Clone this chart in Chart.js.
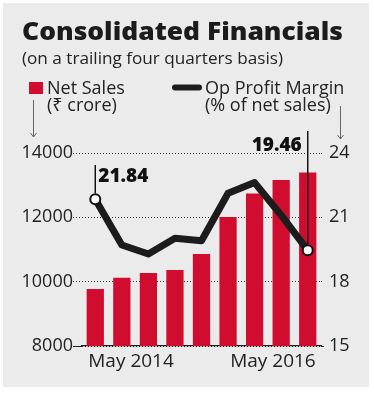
<!DOCTYPE html>
<html><head><meta charset="utf-8">
<script src="https://cdn.jsdelivr.net/npm/chart.js@4.4.1/dist/chart.umd.min.js"></script>
<style>
html,body{margin:0;padding:0;background:#fff;}
#wrap{position:relative;width:374px;height:395px;}
</style></head>
<body><div id="wrap"><canvas id="c" width="374" height="395"></canvas></div>
<script>
// ---- data ----
const quarters = ['May 2014','Aug 2014','Nov 2014','Feb 2015','May 2015','Aug 2015','Nov 2015','Feb 2016','May 2016'];
const netSales = [9770, 10120, 10270, 10360, 10860, 12010, 12740, 13160, 13390];
const opMargin = [21.84, 19.71, 19.29, 20.02, 19.91, 22.12, 22.62, 21.10, 19.46];
const salesTicks = [8000, 10000, 12000, 14000];
const marginTicks = [15, 18, 21, 24];

const FONT = "'Open Sans', 'Noto Sans', 'DejaVu Sans', sans-serif";
const RED = '#d10d2f';
const INK = '#1c1c1c';

function fitText(ctx, text, x, y, width) {
  const w = ctx.measureText(text).width;
  ctx.save();
  ctx.translate(x, y);
  ctx.scale(width / w, 1);
  ctx.fillText(text, 0, 0);
  ctx.restore();
}

const deco = {
  id: 'deco',
  beforeDraw(chart) {
    const ctx = chart.ctx;
    ctx.save();
    ctx.fillStyle = '#ffffff';
    ctx.fillRect(0, 0, chart.width, chart.height);
    ctx.fillStyle = '#ebebeb';
    ctx.fillRect(3, 3, 366, 384);
    ctx.restore();
  },
  afterDraw(chart) {
    const ctx = chart.ctx;
    ctx.save();
    ctx.fillStyle = INK;
    ctx.textBaseline = 'alphabetic';
    ctx.textAlign = 'left';
    ctx.font = "800 24.5px " + FONT;
    fitText(ctx, 'Consolidated Financials', 22, 39.5, 321);
    ctx.font = "17px " + FONT;
    ctx.fillStyle = '#222';
    fitText(ctx, '(on a trailing four quarters basis)', 22, 64, 261);
    // legend
    ctx.fillStyle = RED;
    ctx.fillRect(29, 82, 14, 12);
    ctx.fillStyle = '#222';
    ctx.font = "18px " + FONT;
    ctx.fillText('Net Sales', 47, 93.5);
    ctx.fillText('(\u20B9 crore)', 47, 110.5);
    ctx.fillText('Op Profit Margin', 205, 93.5);
    ctx.fillText('(% of net sales)', 205, 110.5);
    ctx.strokeStyle = INK;
    ctx.lineCap = 'round';
    ctx.lineWidth = 6;
    ctx.beginPath(); ctx.moveTo(175, 87.5); ctx.lineTo(199, 87.5); ctx.stroke();
    // arrows
    ctx.strokeStyle = '#666'; ctx.lineWidth = 1; ctx.lineCap = 'butt';
    const arrow = (x, y0, y1) => {
      ctx.beginPath(); ctx.moveTo(x, y0); ctx.lineTo(x, y1);
      ctx.moveTo(x - 3, y1 - 4); ctx.lineTo(x, y1); ctx.lineTo(x + 3, y1 - 4);
      ctx.stroke();
    };
    arrow(33.5, 100, 137);
    arrow(340.5, 106, 139);
    // callouts on first & last margin points
    const meta = chart.getDatasetMeta(1);
    const area = chart.chartArea;
    const p0 = meta.data[0], pN = meta.data[meta.data.length - 1];
    ctx.strokeStyle = '#111'; ctx.lineWidth = 1.5;
    ctx.beginPath(); ctx.moveTo(p0.x, p0.y - 6); ctx.lineTo(p0.x, area.top + 12); ctx.stroke();
    ctx.beginPath(); ctx.moveTo(pN.x, pN.y - 6); ctx.lineTo(pN.x, area.top - 22); ctx.stroke();
    ctx.fillStyle = '#111';
    ctx.font = "800 19px " + FONT;
    ctx.textAlign = 'left';
    ctx.fillText(opMargin[0].toFixed(2), p0.x + 3, area.top + 29);
    ctx.textAlign = 'right';
    ctx.fillText(opMargin[opMargin.length - 1].toFixed(2), pN.x - 6, area.top - 2);
    ctx.restore();
  }
};

const tickFont = { family: FONT, size: 18 };
const xFont = { family: FONT, size: 19 };

new Chart(document.getElementById('c'), {
  data: {
    labels: quarters,
    datasets: [
      {
        type: 'bar', label: 'Net Sales', data: netSales, yAxisID: 'y',
        backgroundColor: RED, barPercentage: 0.65, categoryPercentage: 1, order: 2
      },
      {
        type: 'line', label: 'Op Profit Margin', data: opMargin, yAxisID: 'y1',
        borderColor: INK, borderWidth: 7, tension: 0, borderJoinStyle: 'round', borderCapStyle: 'round',
        pointRadius: ctx => (ctx.dataIndex === 0 || ctx.dataIndex === opMargin.length - 1) ? 5 : 0,
        pointBackgroundColor: '#fff', pointBorderColor: '#111', pointBorderWidth: 2,
        order: 1
      }
    ]
  },
  options: {
    responsive: false, animation: false, devicePixelRatio: 1,
    layout: { padding: { top: 153, left: 0, right: 0, bottom: 0 } },
    plugins: { legend: { display: false }, tooltip: { enabled: false } },
    scales: {
      // last quarter label
      x: {
        offset: true,
        afterFit: s => { s.height = 49; },
        grid: { display: false, drawTicks: false },
        border: { display: true, color: '#222', width: 1.2 },
        ticks: {
          autoSkip: false, maxRotation: 0, padding: 4, align: 'end', labelOffset: 8,
          color: '#222', font: xFont,
          callback: function (v, i) { return i === quarters.length - 1 ? this.getLabelForValue(v) : ''; }
        }
      },
      // first quarter label
      x2: {
        type: 'category', offset: true, position: { y: 8000 },
        grid: { display: false, drawTicks: false },
        border: { display: false },
        ticks: {
          autoSkip: false, maxRotation: 0, padding: 4, align: 'start', labelOffset: -7,
          color: '#222', font: xFont,
          callback: function (v, i) { return i === 0 ? this.getLabelForValue(v) : ''; }
        }
      },
      y: {
        position: 'left', min: 8000, max: 14000,
        afterFit: s => { s.width = 82; },
        afterBuildTicks: s => { s.ticks = salesTicks.map(v => ({ value: v })); },
        border: { display: false, dash: [1, 2] },
        grid: {
          color: ctx => ctx.tick && ctx.tick.value === 8000 ? '#222' : '#333',
          lineWidth: 1, drawTicks: true, tickLength: 9,
          tickBorderDash: ctx => ctx.tick && ctx.tick.value === 8000 ? [] : [1, 2]
        },
        ticks: { padding: 0, color: '#222', font: tickFont, callback: v => String(v) }
      },
      y1: {
        position: 'right', min: 15, max: 24,
        afterFit: s => { s.width = 53; },
        afterBuildTicks: s => { s.ticks = marginTicks.map(v => ({ value: v })); },
        border: { display: false },
        grid: {
          drawOnChartArea: false, drawTicks: true, tickLength: 3, color: '#333',
          tickBorderDash: ctx => ctx.tick && ctx.tick.value === 15 ? [] : [1, 2]
        },
        ticks: { padding: 5, color: '#222', font: tickFont, callback: v => String(v) }
      }
    }
  },
  plugins: [deco]
});
</script></body></html>
